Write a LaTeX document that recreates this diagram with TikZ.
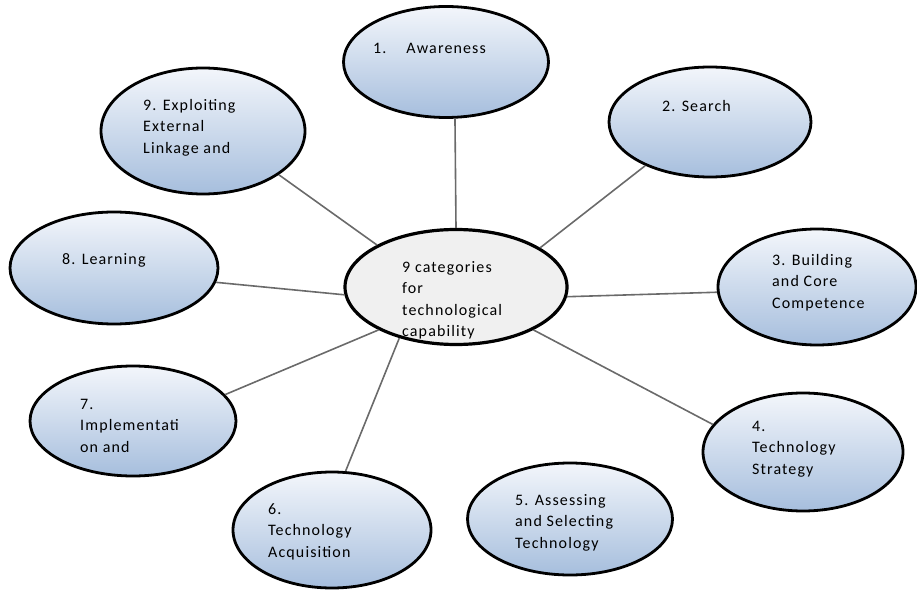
\documentclass[tikz,border=0pt]{standalone}
\usepackage{fontspec}
\setmainfont[LetterSpace=7]{Carlito}
\usetikzlibrary{shapes.geometric}
\definecolor{satTop}{HTML}{F3F6FB}
\definecolor{satBot}{HTML}{A6BEDD}
\definecolor{hubFill}{HTML}{F0F0F0}
\definecolor{linkGrey}{HTML}{6A6A6A}
\begin{document}
\begin{tikzpicture}[x=1pt,y=-1pt,
  sat/.style={ellipse, draw=black, line width=2.8pt, top color=satTop, bottom color=satBot, inner sep=0pt},
  hub/.style={ellipse, draw=black, line width=3.2pt, fill=hubFill, inner sep=0pt},
  lbl/.style={anchor=north west, inner sep=0pt, align=left, font=\fontsize{16}{21.5}\selectfont, text=black},
  link/.style={draw=linkGrey, line width=1.6pt}]
\useasboundingbox (0,0) rectangle (917,593);
% ellipses
\node[hub, minimum width=222pt, minimum height=115pt] (hub) at (456,287) {};
\node[sat, minimum width=205pt, minimum height=111pt] (s1) at (446,62) {};
\node[sat, minimum width=202pt, minimum height=110pt] (s2) at (710,122) {};
\node[sat, minimum width=198pt, minimum height=116pt] (s3) at (817,287) {};
\node[sat, minimum width=200pt, minimum height=118pt] (s4) at (803,452) {};
\node[sat, minimum width=205pt, minimum height=112pt] (s5) at (570,519) {};
\node[sat, minimum width=198pt, minimum height=116pt] (s6) at (332,530) {};
\node[sat, minimum width=206pt, minimum height=110pt] (s7) at (133,421) {};
\node[sat, minimum width=208pt, minimum height=112pt] (s8) at (114,268) {};
\node[sat, minimum width=204pt, minimum height=126pt] (s9) at (203,131) {};
% connectors
\draw[link] (hub.90) -- (s1.-81);
\draw[link] (hub.25) -- (s2.214);
\draw[link] (hub.-5) -- (s3.183.5);
\draw[link] (hub.-29) -- (s4.163);
\draw[link] (hub.222) -- (s6.77);
\draw[link] (hub.209) -- (s7.16);
\draw[link] (hub.184) -- (s8.-8);
\draw[link] (hub.152.6) -- (s9.-30.3);
% labels
\node[lbl] (t1) at (373,43) {1.\hspace{20pt}Awareness};
\node[lbl] (t2) at (662,100) {2. Search};
\node[lbl] (t3) at (772,254) {3. Building\\and Core\\Competence};
\node[lbl] (t4) at (752,421) {4.\\Technology\\Strategy};
\node[lbl] (t5) at (515,494) {5. Assessing\\and Selecting\\Technology};
\node[lbl] (t6) at (268,503) {6.\\Technology\\Acquisition};
\node[lbl] (t7) at (80,399) {7.\\Implementati\\on and};
\node[lbl] (t8) at (62,253) {8. Learning};
\node[lbl] (t9) at (143,99) {9. Exploiting\\External\\Linkage and};
\node[lbl] (th) at (402,261) {9 categories\\for\\technological\\capability};
\end{tikzpicture}
\end{document}
